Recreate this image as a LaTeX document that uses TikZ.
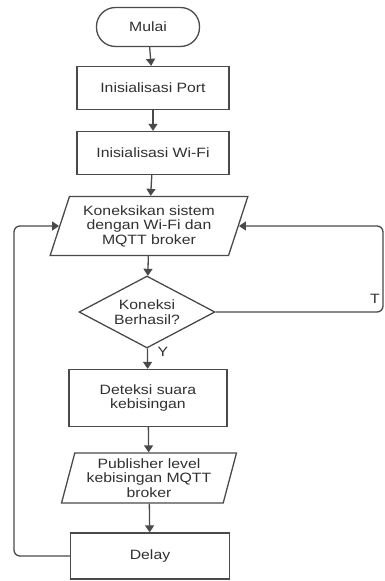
\documentclass[tikz,border=0pt]{standalone}
\usepackage{fontspec}
\setmainfont[FakeStretch=1.17]{Liberation Sans}
\usetikzlibrary{shapes.geometric,arrows.meta}
\definecolor{lc}{HTML}{4A4A4A}
\definecolor{tc}{HTML}{303030}

\begin{document}
\begin{tikzpicture}[x=1pt, y=-1pt,
    every node/.style={font=\fontsize{13.5}{14.5}\selectfont, text=tc, align=center, inner sep=2pt, line width=1.3pt},
    terminal/.style={draw=lc, rounded corners=19pt, minimum width=103pt, minimum height=39pt},
    proses/.style={draw=lc, rectangle, minimum width=152pt, minimum height=43pt},
    io/.style={draw=lc, trapezium, trapezium left angle=70, trapezium right angle=110, trapezium stretches=true},
    cabang/.style={draw=lc, diamond, aspect=1.9, inner sep=0pt, minimum width=136pt, minimum height=72pt},
    flow/.style={draw=lc, line width=1.3pt, -{Triangle[width=9pt,length=7pt]}},
    loopline/.style={flow, rounded corners=6pt}]
    \useasboundingbox (0,0) rectangle (385,581);
    \node[terminal] (mulai) at (148,27) {Mulai};
    \node[proses] (port) at (153,88) {Inisialisasi Port};
    \node[proses] (wifi) at (153,153) {Inisialisasi Wi-Fi};
    \node[io, minimum width=198pt, minimum height=59pt] (koneksi) at (149,226) {Koneksikan sistem\\dengan Wi-Fi dan\\MQTT broker};
    \node[cabang] (cek) at (147,312) {Koneksi\\Berhasil?};
    \node[proses, minimum width=158pt, minimum height=57pt] (deteksi) at (148,398) {Deteksi suara\\kebisingan};
    \node[io, trapezium left angle=75, trapezium right angle=105, minimum width=175pt, minimum height=50pt] (publish) at (149,478) {Publisher level\\kebisingan MQTT\\broker};
    \node[proses, minimum width=159pt, minimum height=46pt] (delay) at (150,556) {Delay};
    \node[inner sep=0pt] (ltidak) at (375,299) {T};
    \node[inner sep=0pt] (lya) at (163,352) {Y};
    \coordinate (kanan) at (383,312);
    \coordinate (kiri) at (14,556);
    \draw[flow] (mulai) -- (port);
    \draw[flow] (port) -- (wifi);
    \draw[flow] (wifi) -- (koneksi);
    \draw[flow] (koneksi) -- (cek);
    \draw[flow] (cek) -- (deteksi);
    \draw[flow] (deteksi) -- (publish);
    \draw[flow] (publish) -- (delay);
    \draw[loopline] (cek.east) -- (kanan) |- (koneksi.east);
    \draw[loopline] (delay.west) -- (kiri) |- (koneksi.west);
\end{tikzpicture}
\end{document}
